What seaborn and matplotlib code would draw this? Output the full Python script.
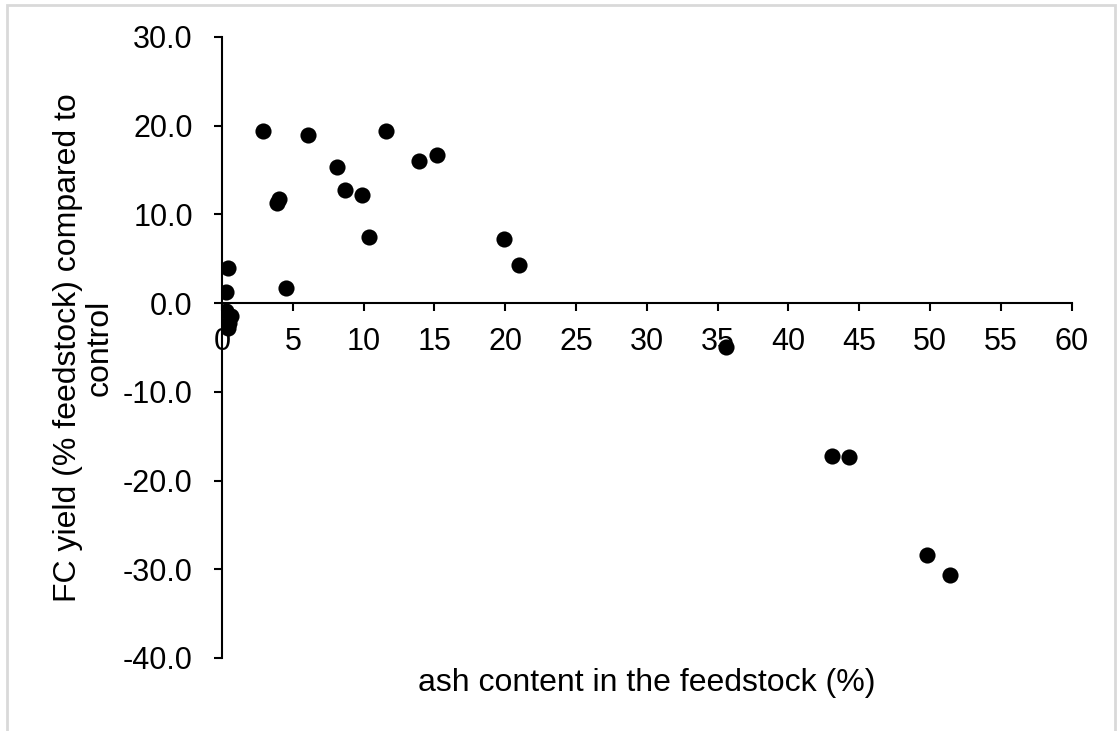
import matplotlib
matplotlib.use('Agg')
import pandas
import seaborn as sns
from matplotlib import pyplot as plt
from matplotlib.patches import Rectangle
from matplotlib.ticker import MultipleLocator, FormatStrFormatter

# ash content (%) vs FC yield change (% feedstock)
ash = [2.9, 6.1, 11.6, 8.1, 13.9, 15.2, 8.7, 9.9, 3.9, 4.0, 10.4, 19.9, 21.0, 4.5,
       0.45, 0.3, 0.25, 0.65, 0.5, 0.45, 35.6, 43.1, 44.3, 49.8, 51.4]
fc_yield = [19.4, 18.9, 19.4, 15.4, 16.0, 16.7, 12.8, 12.2, 11.3, 11.7, 7.5, 7.2, 4.3, 1.7,
            4.0, 1.2, -0.9, -1.5, -2.2, -2.8, -4.9, -17.2, -17.4, -28.4, -30.6]
x_label = 'ash content in the feedstock (%)'
y_label = 'FC yield (% feedstock) compared to\ncontrol'

df = pandas.DataFrame({'ash': ash, 'fc': fc_yield})

sns.set_style('white')
plt.rcParams['font.family'] = ['Liberation Sans', 'DejaVu Sans']
plt.rcParams['axes.unicode_minus'] = False

fig = plt.figure(figsize=(11.18, 7.31), dpi=100)
ax = fig.add_axes([0.1986, 0.0999, 0.76, 0.8495])

sns.scatterplot(x='ash', y='fc', data=df, color='black', s=135, edgecolor='black', linewidth=0, ax=ax)

ax.set_xlim(0, 60)
ax.set_ylim(-40, 30)
ax.xaxis.set_major_locator(MultipleLocator(5))
ax.yaxis.set_major_locator(MultipleLocator(10))
ax.yaxis.set_major_formatter(FormatStrFormatter('%.1f'))

ax.spines['top'].set_visible(False)
ax.spines['right'].set_visible(False)
ax.spines['bottom'].set_position(('data', 0))
for s in ['left', 'bottom']:
    ax.spines[s].set_color('black')
    ax.spines[s].set_linewidth(1.5)
ax.tick_params(axis='both', direction='out', length=6, width=1.5, color='black',
               labelsize=22, labelcolor='black')
ax.tick_params(axis='y', left=True, pad=15)
ax.tick_params(axis='x', bottom=True, pad=11)

ax.set_xlabel(x_label, fontsize=23, color='black')
ax.xaxis.set_label_coords(0.5, -0.016)
ax.set_ylabel(y_label, fontsize=23, color='black', linespacing=1.1)
ax.yaxis.set_label_coords(-0.126, 0.5)

# light border round the chart area
fig.patches.append(Rectangle((7 / 1118, -0.05), 1108 / 1118, 1.05 - 5 / 731,
                             transform=fig.transFigure, fill=False,
                             edgecolor='#d9d9d9', linewidth=2))

plt.savefig('out.png', dpi=100)
